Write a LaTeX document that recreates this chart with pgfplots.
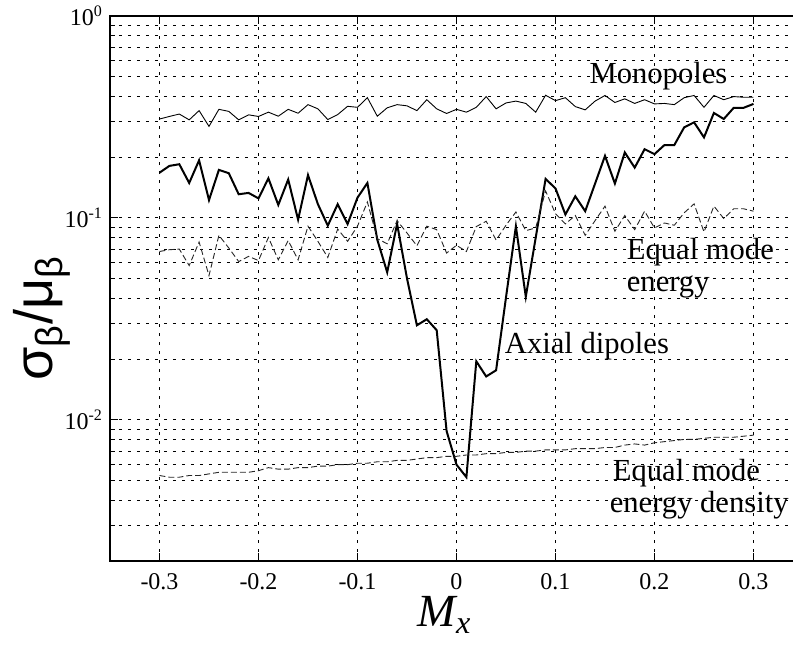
\documentclass[border=0pt]{standalone}
\usepackage{fontspec}
\setmainfont{Liberation Serif}
\newfontfamily\greekfont{Liberation Sans}
\usepackage{pgfplots}
\pgfplotsset{compat=1.18}
\usepackage{pgfplotstable}

% Relative spread sigma/mu against M_x for four source models
\pgfplotstableread{
x      mono   axial   eme     emed
-0.30  0.309  0.1675  0.0682  0.0053
-0.29  0.318  0.181   0.0696  0.0052
-0.28  0.327  0.1845  0.0701  0.0052
-0.27  0.306  0.149   0.0581  0.0053
-0.26  0.340  0.193   0.076   0.0053
-0.25  0.284  0.1225  0.0518  0.0054
-0.24  0.345  0.173   0.082   0.0055
-0.23  0.337  0.1665  0.071   0.0055
-0.22  0.306  0.131   0.0608  0.0055
-0.21  0.324  0.133   0.0645  0.0055
-0.20  0.318  0.125   0.0615  0.0056
-0.19  0.334  0.157   0.080   0.0058
-0.18  0.319  0.116   0.062   0.0057
-0.17  0.345  0.155   0.0773  0.0057
-0.16  0.330  0.098   0.062   0.0058
-0.15  0.364  0.163   0.091   0.0058
-0.14  0.347  0.117   0.0766  0.0059
-0.13  0.307  0.0916  0.0637  0.0059
-0.12  0.325  0.117   0.0881  0.0060
-0.11  0.357  0.0933  0.0766  0.0060
-0.10  0.353  0.126   0.091   0.0061
-0.09  0.394  0.149   0.120   0.0061
-0.08  0.319  0.078   0.0789  0.0062
-0.07  0.351  0.0538  0.0745  0.0062
-0.06  0.364  0.0935  0.097   0.0063
-0.05  0.359  0.0502  0.0842  0.0063
-0.04  0.340  0.0294  0.0728  0.0064
-0.03  0.385  0.0315  0.091   0.0065
-0.02  0.347  0.0278  0.0875  0.0065
-0.01  0.329  0.0088  0.067   0.0066
0.00   0.345  0.0060  0.0732  0.0066
0.01   0.334  0.0052  0.0682  0.0067
0.02   0.353  0.0195  0.0906  0.0067
0.03   0.399  0.0164  0.0963  0.0068
0.04   0.347  0.0176  0.0777  0.0068
0.05   0.371  0.0404  0.092   0.0069
0.06   0.379  0.0909  0.107   0.0069
0.07   0.369  0.0407  0.0865  0.0070
0.08   0.334  0.0798  0.0892  0.0070
0.09   0.405  0.156   0.136   0.0071
0.10   0.381  0.140   0.105   0.0071
0.11   0.394  0.104   0.0934  0.0071
0.12   0.356  0.128   0.1028  0.0072
0.13   0.343  0.108   0.082   0.0072
0.14   0.379  0.148   0.097   0.0072
0.15   0.404  0.203   0.1144  0.0073
0.16   0.373  0.148   0.0859  0.0073
0.17   0.389  0.211   0.1028  0.0075
0.18   0.369  0.1775  0.0875  0.0076
0.19   0.385  0.219   0.108   0.0075
0.20   0.367  0.207   0.0892  0.0077
0.21   0.369  0.2295  0.0944  0.0078
0.22   0.364  0.2295  0.092   0.0079
0.23   0.394  0.281   0.106   0.0080
0.24   0.404  0.2975  0.1174  0.0080
0.25   0.353  0.2505  0.0852  0.0081
0.26   0.404  0.331   0.1144  0.0082
0.27   0.385  0.309   0.0993  0.0082
0.28   0.399  0.351   0.111   0.0082
0.29   0.396  0.351   0.111   0.0083
0.30   0.396  0.367   0.108   0.0084
}\datatable

\begin{document}
\begin{tikzpicture}
\begin{axis}[
  at={(0,0)}, anchor=south west,
  scale only axis, width=346.5pt, height=272.5pt,
  xmin=-0.35, xmax=0.35,
  ymode=log, ymin=2e-3, ymax=1,
  xtick={-0.3,-0.2,-0.1,0,0.1,0.2,0.3},
  xticklabels={-0.3,-0.2,-0.1,0,0.1,0.2,0.3},
  ytick={0.01,0.1,1},
  yticklabels={10\textsuperscript{-2},10\textsuperscript{-1},10\textsuperscript{0}},
  minor ytick={0.002,0.003,0.004,0.005,0.006,0.007,0.008,0.009,
               0.02,0.03,0.04,0.05,0.06,0.07,0.08,0.09,
               0.2,0.3,0.4,0.5,0.6,0.7,0.8,0.9},
  grid=both,
  major grid style={black, line width=0.5pt, dash pattern=on 1.3pt off 3.2pt},
  minor grid style={black, line width=0.5pt, dash pattern=on 1.3pt off 3.2pt},
  axis line style={black, line width=1.3pt},
  tick align=inside,
  major tick length=4pt, minor tick length=2.5pt,
  tick style={black, line width=0.5pt},
  tick label style={font=\fontsize{12}{14}\selectfont},
  xticklabel style={yshift=-2.5pt},
  xlabel={{\itshape M}\textsubscript{\itshape x}},
  xlabel style={font=\fontsize{23}{26}\selectfont, at={(axis description cs:0.483,-0.099)}, anchor=center},
  ylabel={\greekfont σ\textsubscript{β}/μ\textsubscript{β}},
  ylabel style={font=\fontsize{27}{30}\selectfont, at={(axis description cs:-0.098,0.445)}, anchor=center, rotate=0},
]
\addplot[black, line width=0.45pt] table[x=x, y=mono] {\datatable};
\addplot[black, line width=1pt] table[x=x, y=axial] {\datatable};
\addplot[black!85, line width=0.45pt, dash pattern=on 3pt off 1.5pt] table[x=x, y=eme] {\datatable};
\addplot[black!85, line width=0.45pt, dash pattern=on 3pt off 1.5pt] table[x=x, y=emed] {\datatable};

% curve labels, placed by their baselines
\begin{scope}[every node/.style={font=\fontsize{15.3}{17}\selectfont, inner sep=0pt}]
\node[anchor=base] at (axis cs:0.204,0.462) {Monopoles};
\node[anchor=base west] at (axis cs:0.1717,0.0621) {Equal mode};
\node[anchor=base west] at (axis cs:0.1717,0.0430) {energy};
\node[anchor=base west] at (axis cs:0.0485,0.02126) {Axial dipoles};
\node[anchor=base west] at (axis cs:0.1576,0.00501) {Equal mode};
\node[anchor=base west] at (axis cs:0.1545,0.003467) {energy density};
\end{scope}
\end{axis}
\pgfresetboundingbox
\useasboundingbox (-55pt,-43pt) rectangle (341.5pt,280.5pt);
\end{tikzpicture}
\end{document}
